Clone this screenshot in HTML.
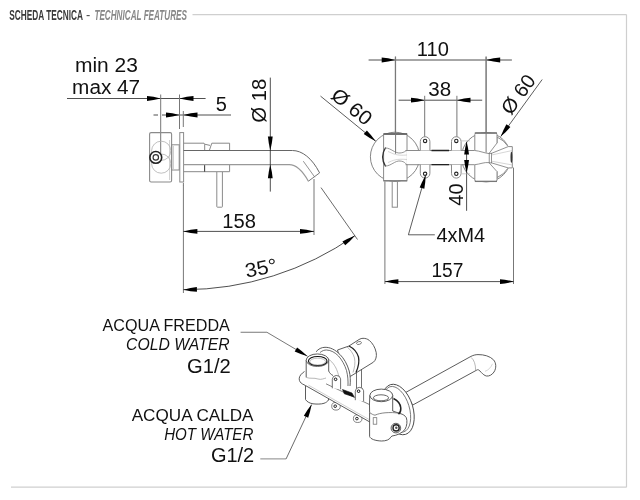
<!DOCTYPE html>
<html><head><meta charset="utf-8"><style>
html,body{margin:0;padding:0;background:#fff;}
body{width:640px;height:500px;overflow:hidden;position:relative;font-family:"Liberation Sans",sans-serif;}
svg{position:absolute;left:0;top:0;filter:grayscale(1);}
.t{font-family:"Liberation Sans",sans-serif;fill:#111;}
</style></head><body>
<svg width="640" height="500" viewBox="0 0 640 500">
<line x1="192.5" y1="14.6" x2="626.5" y2="14.6" stroke="#cfcfcf" stroke-width="1.2" />
<line x1="626.5" y1="14.6" x2="626.5" y2="487.2" stroke="#cfcfcf" stroke-width="1.2" />
<line x1="11" y1="487.2" x2="626.5" y2="487.2" stroke="#cfcfcf" stroke-width="1.2" />
<line x1="67" y1="98.5" x2="205.6" y2="98.5" stroke="#222" stroke-width="0.8" />
<path d="M160.70,98.50 Q153.16,96.63 147.00,96.10 L147.00,100.90 Q153.16,100.37 160.70,98.50 Z" fill="#000"/>
<path d="M179.50,98.50 Q187.20,100.37 193.50,100.90 L193.50,96.10 Q187.20,96.63 179.50,98.50 Z" fill="#000"/>
<line x1="153.5" y1="115" x2="158" y2="115" stroke="#222" stroke-width="0.8" />
<line x1="162" y1="115" x2="231" y2="115" stroke="#222" stroke-width="0.8" />
<path d="M179.50,115.00 Q172.07,113.13 166.00,112.60 L166.00,117.40 Q172.07,116.87 179.50,115.00 Z" fill="#000"/>
<path d="M183.30,115.00 Q191.11,116.87 197.50,117.40 L197.50,112.60 Q191.11,113.13 183.30,115.00 Z" fill="#000"/>
<line x1="160.7" y1="94.5" x2="160.7" y2="153.8" stroke="#777" stroke-width="1" />
<line x1="179.5" y1="94.5" x2="179.5" y2="129" stroke="#777" stroke-width="1" />
<line x1="183.3" y1="111" x2="183.3" y2="127" stroke="#777" stroke-width="1" />
<rect x="149.6" y="132.6" width="22" height="49.4" rx="1.5" fill="none" stroke="#8a8a8a" stroke-width="1.1"/>
<line x1="169.6" y1="140" x2="169.6" y2="180" stroke="#bbb" stroke-width="0.7" />
<circle cx="161.2" cy="150.8" r="9.6" fill="none" stroke="#b0b0b0" stroke-width="0.8"/>
<circle cx="161.2" cy="163.6" r="9.6" fill="none" stroke="#b0b0b0" stroke-width="0.8"/>
<circle cx="155.8" cy="157.4" r="5.9" fill="#fff" stroke="#222" stroke-width="1.6"/>
<circle cx="155.8" cy="157.4" r="2.7" fill="none" stroke="#333" stroke-width="1.2"/>
<rect x="171.6" y="144.8" width="7.6" height="25.2" fill="none" stroke="#8a8a8a" stroke-width="1"/>
<line x1="173.2" y1="146" x2="173.2" y2="169" stroke="#aaa" stroke-width="0.8" />
<rect x="179.8" y="132.6" width="3.8" height="49.4" fill="none" stroke="#8a8a8a" stroke-width="1"/>
<line x1="183.4" y1="183" x2="183.4" y2="186" stroke="#777" stroke-width="1" />
<line x1="183.4" y1="185.6" x2="183.4" y2="293" stroke="#777" stroke-width="1" />
<path d="M183.6,143.2 H204 L204.7,144.2 V150.3 M204.7,144.2 L210,145.4 M211.8,143.2 L209.4,150.3 M211.8,143.2 H229.6 V150.3" fill="none" stroke="#888" stroke-width="1"/>
<path d="M183.6,171.7 H229.6 V164.7" fill="none" stroke="#888" stroke-width="1"/>
<line x1="204.6" y1="164.7" x2="204.6" y2="171.7" stroke="#444" stroke-width="1.1" />
<path d="M183.6,150.5 H292.4 C302,150.5 312,158 319.6,172.9" fill="none" stroke="#666" stroke-width="1"/>
<path d="M183.6,164.7 H289.2 C296,164.7 302,170 308.4,181.2" fill="none" stroke="#999" stroke-width="1.2"/>
<line x1="319.6" y1="172.9" x2="308.4" y2="181.2" stroke="#777" stroke-width="1" />
<line x1="303.3" y1="161.2" x2="314.8" y2="177.2" stroke="#777" stroke-width="0.8" />
<path d="M216.8,172 V206.6 Q216.8,207.2 217.4,207.2 H221.8 Q222.4,207.2 222.4,206.6 V172" fill="none" stroke="#8a8a8a" stroke-width="1"/>
<line x1="270.3" y1="77.6" x2="270.3" y2="191.6" stroke="#222" stroke-width="0.8" />
<path d="M270.30,150.50 Q272.17,142.85 272.70,136.60 L267.90,136.60 Q268.43,142.85 270.30,150.50 Z" fill="#000"/>
<path d="M270.30,164.70 Q268.43,172.18 267.90,178.30 L272.70,178.30 Q272.17,172.18 270.30,164.70 Z" fill="#000"/>
<line x1="314" y1="179" x2="314" y2="235" stroke="#777" stroke-width="1" />
<line x1="183.4" y1="231.4" x2="314" y2="231.4" stroke="#222" stroke-width="0.8" />
<path d="M183.40,231.40 Q191.10,233.27 197.40,233.80 L197.40,229.00 Q191.10,229.53 183.40,231.40 Z" fill="#000"/>
<path d="M314.00,231.40 Q306.30,229.53 300.00,229.00 L300.00,233.80 Q306.30,233.27 314.00,231.40 Z" fill="#000"/>
<line x1="321" y1="187.6" x2="357.5" y2="239.5" stroke="#444" stroke-width="0.8" />
<path d="M183.4,289.70 A299.0,299.0 0 0 0 354.90,235.63" fill="none" stroke="#222" stroke-width="0.8"/>
<path d="M183.40,289.70 Q190.87,291.41 196.95,291.80 L196.85,287.00 Q190.78,287.66 183.40,289.70 Z" fill="#000"/>
<path d="M354.90,235.63 Q347.74,238.35 342.46,241.40 L345.22,245.34 Q349.89,241.42 354.90,235.63 Z" fill="#000"/>
<line x1="368.6" y1="60" x2="511.9" y2="60" stroke="#222" stroke-width="0.8" />
<path d="M395.30,60.00 Q387.82,58.13 381.70,57.60 L381.70,62.40 Q387.82,61.87 395.30,60.00 Z" fill="#000"/>
<path d="M486.10,60.00 Q493.86,61.87 500.20,62.40 L500.20,57.60 Q493.86,58.13 486.10,60.00 Z" fill="#000"/>
<line x1="395.3" y1="56.6" x2="395.3" y2="153.8" stroke="#777" stroke-width="1" />
<line x1="486.1" y1="56.6" x2="486.1" y2="152.6" stroke="#777" stroke-width="1" />
<line x1="398.6" y1="100.2" x2="482.2" y2="100.2" stroke="#222" stroke-width="0.8" />
<path d="M424.70,100.20 Q417.17,98.33 411.00,97.80 L411.00,102.60 Q417.17,102.07 424.70,100.20 Z" fill="#000"/>
<path d="M456.90,100.20 Q464.38,102.07 470.50,102.60 L470.50,97.80 Q464.38,98.33 456.90,100.20 Z" fill="#000"/>
<line x1="424.7" y1="95.8" x2="424.7" y2="137" stroke="#777" stroke-width="1" />
<line x1="456.9" y1="95.8" x2="456.9" y2="137" stroke="#777" stroke-width="1" />
<line x1="320.5" y1="96.1" x2="375.8" y2="141.3" stroke="#333" stroke-width="0.8" />
<path d="M375.80,141.30 Q371.25,134.88 366.87,130.39 L363.73,134.01 Q368.80,137.71 375.80,141.30 Z" fill="#000"/>
<line x1="542.2" y1="79.5" x2="500.7" y2="136.6" stroke="#333" stroke-width="0.8" />
<path d="M500.70,136.60 Q506.47,131.62 510.37,126.98 L506.43,124.22 Q503.40,129.48 500.70,136.60 Z" fill="#000"/>
<circle cx="395" cy="156.8" r="24.6" fill="none" stroke="#777" stroke-width="0.9"/>
<circle cx="486.1" cy="157.3" r="24.6" fill="none" stroke="#777" stroke-width="0.9"/>
<rect x="383.6" y="134" width="23.4" height="46.8" fill="#fff" stroke="#8a8a8a" stroke-width="1"/>
<rect x="406.2" y="151" width="68.6" height="13.2" fill="#fff" stroke="none"/>
<path d="M405.5,150.5 H474.8 M405.5,164.7 H474.8" stroke="#8a8a8a" stroke-width="1"/>
<path d="M431.5,150.5 H449 M431.5,164.7 H449" stroke="#222" stroke-width="1.3"/>
<path d="M383.6,134 H407" stroke="#555" stroke-width="1.5"/>
<path d="M383.6,180.8 H407" stroke="#777" stroke-width="1.2"/>
<path d="M385.6,147.5 Q379.6,157 385.6,166.5" fill="none" stroke="#333" stroke-width="1.3"/>
<path d="M385.5,148 C391,148 395,153.5 400,153 S405,150.8 407,150.5 M385.5,166 C391,166 395,160.5 400,161 S405,163.5 407,164.7" fill="none" stroke="#888" stroke-width="0.9"/>
<path d="M388,151.5 C393,153.5 396,156 407,155 M388,162.5 C393,160.5 396,158.5 407,159.5" fill="none" stroke="#c4c4c4" stroke-width="0.7"/>
<line x1="395.6" y1="56.6" x2="395.6" y2="153.8" stroke="#777" stroke-width="1" />
<rect x="392.2" y="180.8" width="5.2" height="26.4" fill="none" stroke="#8a8a8a" stroke-width="1"/>
<path d="M420.3,150.5 V141.5 A4.8,4.8 0 0 1 429.90000000000003,141.5 V150.5" fill="#fff" stroke="#8a8a8a" stroke-width="1"/>
<circle cx="425.1" cy="140.9" r="1.7" fill="none" stroke="#222" stroke-width="1.1"/>
<path d="M420.3,164.7 V173.3 A4.8,4.8 0 0 0 429.90000000000003,173.3 V164.7" fill="#fff" stroke="#8a8a8a" stroke-width="1"/>
<circle cx="425.1" cy="173.8" r="1.7" fill="none" stroke="#222" stroke-width="1.1"/>
<path d="M451.5,150.5 V141.5 A4.8,4.8 0 0 1 461.1,141.5 V150.5" fill="#fff" stroke="#8a8a8a" stroke-width="1"/>
<circle cx="456.3" cy="140.9" r="1.7" fill="none" stroke="#222" stroke-width="1.1"/>
<path d="M451.5,164.7 V173.3 A4.8,4.8 0 0 0 461.1,173.3 V164.7" fill="#fff" stroke="#8a8a8a" stroke-width="1"/>
<circle cx="456.3" cy="173.8" r="1.7" fill="none" stroke="#222" stroke-width="1.1"/>
<path d="M497,137 A24.6,24.6 0 0 1 508.2,146.6 H512.3 V167.9 H508.2 A24.6,24.6 0 0 1 497,177.6 Z" fill="#fff" stroke="#8a8a8a" stroke-width="1"/>
<path d="M497,143 V134.5 Q497,133 495.5,133 H476.3 Q474.8,133 474.8,134.5 V179.9 Q474.8,181.4 476.3,181.4 H495.5 Q497,181.4 497,179.9 V171.6 L508.2,167.9 V146.6 Z" fill="#fff" stroke="none"/>
<path d="M497,143 V134.5 Q497,133 495.5,133 H476.3 Q474.8,133 474.8,134.5 V150.5 M474.8,164.7 V179.9 Q474.8,181.4 476.3,181.4 H495.5 Q497,181.4 497,179.9 V171.6" fill="none" stroke="#8a8a8a" stroke-width="1"/>
<path d="M474.8,133 H497" stroke="#666" stroke-width="1.3"/>
<path d="M474.8,181.4 H497" stroke="#777" stroke-width="1.3"/>
<rect x="489.2" y="153.3" width="2.4" height="9.6" fill="none" stroke="#777" stroke-width="0.8"/>
<path d="M497,143 L489.2,153.3 M508.2,146.6 L491.6,153.3 M497,171.6 L489.2,162.9 M508.2,167.9 L491.6,162.9 M474.8,150.5 C480,151 484,153 489.2,153.6 M474.8,164.7 C480,164.2 484,162 489.2,162.6" fill="none" stroke="#777" stroke-width="0.8"/>
<path d="M491.6,155 L512.3,150.5 M491.6,161.2 L512.3,165" fill="none" stroke="#bbb" stroke-width="0.6"/>
<ellipse cx="511.4" cy="157.3" rx="0.9" ry="5.5" fill="#333"/>
<line x1="486.1" y1="56.6" x2="486.1" y2="152.6" stroke="#777" stroke-width="1" />
<line x1="466.6" y1="141.8" x2="466.6" y2="210.8" stroke="#222" stroke-width="0.8" />
<path d="M466.60,141.80 Q464.73,148.84 464.20,154.60 L469.00,154.60 Q468.47,148.84 466.60,141.80 Z" fill="#000"/>
<path d="M466.60,172.80 Q468.47,165.76 469.00,160.00 L464.20,160.00 Q464.73,165.76 466.60,172.80 Z" fill="#000"/>
<line x1="461.8" y1="140.9" x2="470" y2="140.9" stroke="#aaa" stroke-width="0.6" />
<line x1="461.8" y1="173.8" x2="470" y2="173.8" stroke="#aaa" stroke-width="0.6" />
<path d="M434.8,234.8 H408.4 L425.7,174.5" fill="none" stroke="#333" stroke-width="0.8"/>
<path d="M425.70,175.20 Q421.86,181.84 419.69,187.54 L424.31,188.86 Q425.47,182.86 425.70,175.20 Z" fill="#000"/>
<line x1="384.9" y1="181.5" x2="384.9" y2="284" stroke="#777" stroke-width="1" />
<line x1="513.5" y1="167.6" x2="513.5" y2="284" stroke="#777" stroke-width="1" />
<line x1="384.9" y1="281.6" x2="513.5" y2="281.6" stroke="#222" stroke-width="0.8" />
<path d="M384.90,281.60 Q392.32,283.47 398.40,284.00 L398.40,279.20 Q392.32,279.73 384.90,281.60 Z" fill="#000"/>
<path d="M513.50,281.60 Q506.07,279.73 500.00,279.20 L500.00,284.00 Q506.07,283.47 513.50,281.60 Z" fill="#000"/>
<path d="M405.6,392.5 L470,356.9 C473,355.2 475.5,354.6 478,354.6 C484,354.5 490,356.2 493.5,359.8 C496.2,362.8 496.6,368 494,372 C492,375 489,376.4 486.5,376 C484.5,375.6 483,374.2 481.5,372.6 L479,370.2 C478.3,369.6 477.6,369.6 476.9,370 L412.6,405.1 Z" fill="#fff" stroke="#4a4a4a" stroke-width="0.9"/>
<path d="M471.2,357.5 C474.2,360 475.6,364.5 475.6,370" fill="none" stroke="#999" stroke-width="0.7"/>
<path d="M492.5,363.8 C491,367.5 488,370.5 485,371.3" fill="none" stroke="#bbb" stroke-width="0.6"/>
<ellipse cx="398" cy="409.5" rx="15" ry="26" transform="rotate(-17 398 409.5)" fill="#fff" stroke="#4a4a4a" stroke-width="0.9"/>
<ellipse cx="396.8" cy="409.3" rx="12.6" ry="23.6" transform="rotate(-17 396.8 409.3)" fill="none" stroke="#666" stroke-width="0.8"/>
<path d="M337.5,350 L349,346 L359,339.5 C360.5,338.6 361.8,338.3 363,338.3 C365.5,338.3 367.5,339 369.2,340.3 C372.5,343 375.2,347.5 376.2,352.5 C376.9,356.5 375.8,360.3 373.4,362.2 L351,376 L345,378 Z" fill="#fff" stroke="#4a4a4a" stroke-width="0.9"/>
<path d="M349,346 C353,348 357,352 358.5,357 C359.5,362 358,368 356,372.5" fill="none" stroke="#222" stroke-width="1.3"/>
<path d="M346.5,346.5 C350,349 353,353 354.5,358 C355.5,363 354.5,368 353,372.5" fill="none" stroke="#999" stroke-width="0.7"/>
<ellipse cx="359" cy="343" rx="2.5" ry="1.4" transform="rotate(-15 359 343)" fill="none" stroke="#666" stroke-width="0.8"/>
<path d="M316,351.8 C318.5,348.8 321.5,347.4 325,347.3 C330,347.2 335,349.5 340,354.5 C344,358.5 347.2,364 349.2,371 C350.4,376 350.6,381 350,386 L347.8,388 L320,388 Z" fill="#fff" stroke="none"/>
<path d="M316,351.8 C318.5,348.8 321.5,347.4 325,347.3 C330,347.2 335,349.5 340,354.5 C344,358.5 347.2,364 349.2,371 C350.4,376 350.6,381 350,386" fill="none" stroke="#4a4a4a" stroke-width="0.9"/>
<path d="M320,352.5 C322.5,350.5 324.5,350 326.5,350 C331,350.2 335,352.5 338.5,356 C342,360 344.8,365 346.5,370.5 C347.8,375.5 348.2,380.5 348,386" fill="none" stroke="#4a4a4a" stroke-width="0.8"/>
<path d="M328.5,359 C331,361 333,363 334.5,365.5 C336.5,368.5 338,372.5 339.5,379" fill="none" stroke="#999" stroke-width="0.7"/>
<path d="M356.5,372.5 V391 M361.5,369.5 V389" fill="none" stroke="#4a4a4a" stroke-width="0.8"/>
<ellipse cx="336" cy="406.2" rx="4.3" ry="3.9" fill="#fff" stroke="#666" stroke-width="0.8"/>
<circle cx="335.2" cy="406.2" r="1.3" fill="none" stroke="#222" stroke-width="1"/>
<ellipse cx="357.7" cy="418.6" rx="4.3" ry="3.9" fill="#fff" stroke="#666" stroke-width="0.8"/>
<circle cx="356.9" cy="418.6" r="1.3" fill="none" stroke="#222" stroke-width="1"/>
<path d="M305.5,385.5 V399.5 C307,402 310,403.3 313,403.8 C317,404.3 321,404.2 324,403.3 C326,402.6 327.6,401.5 328.5,400 V397.5" fill="#fff" stroke="#4a4a4a" stroke-width="0.9"/>
<path d="M304.5,371.5 C301.5,373.5 299.2,376 299.2,378.8 C299.2,381 300.5,383 302.5,384 L305.6,385.6 L376,425.5 L378,412 L370,394 Z" fill="#fff" stroke="none"/>
<path d="M304.5,371.5 C301.5,373.5 299.2,376 299.2,378.8 C299.2,381 300.5,383 302.5,384 L305.6,385.6 L376,425.5" fill="none" stroke="#4a4a4a" stroke-width="0.9"/>
<path d="M308.5,385.2 L370,420" fill="none" stroke="#bbb" stroke-width="0.7"/>
<path d="M326,383.8 L370,404.8" fill="none" stroke="#666" stroke-width="0.8"/>
<path d="M332.3,388.3 V379.3 A4.2,4.2 0 0 1 340.6,378.8 V389.3" fill="#fff" stroke="#4a4a4a" stroke-width="0.8"/>
<circle cx="335.6" cy="379.3" r="1.3" fill="none" stroke="#111" stroke-width="1"/>
<path d="M355.3,400.2 V391.2 A4.2,4.2 0 0 1 363.6,390.7 V401.2" fill="#fff" stroke="#4a4a4a" stroke-width="0.8"/>
<circle cx="358.6" cy="391.2" r="1.3" fill="none" stroke="#111" stroke-width="1"/>
<path d="M342.5,389.5 L352,393 L354.2,397 L344.3,393.8 Z" fill="#111" stroke="#111" stroke-width="0.6"/>
<path d="M306.2,360.2 V377 C310,378.8 318,379.3 325,378.5 L328.7,371 V360.2 Z" fill="#fff" stroke="none"/>
<path d="M306.2,360.2 V377.4 M328.7,360.2 V371 C329.5,373 331,374.5 333,375.5" fill="none" stroke="#4a4a4a" stroke-width="0.9"/>
<path d="M306.2,377.4 C310,379 314,377.5 318,379 C321,380 324,378.5 326,378" fill="none" stroke="#999" stroke-width="0.7"/>
<ellipse cx="317.45" cy="360.2" rx="11.25" ry="6.25" fill="#fff" stroke="#4a4a4a" stroke-width="0.9"/>
<ellipse cx="317.7" cy="361" rx="9.3" ry="4.55" fill="none" stroke="#111" stroke-width="1.1"/>
<ellipse cx="317.7" cy="361.6" rx="7.8" ry="3.4" fill="none" stroke="#999" stroke-width="0.6"/>
<path d="M369.8,395.5 C369.4,401 369.4,407 369.6,412.5 V436.5 C370.5,439 375,440.8 381.5,441 C386,441 389.5,439.8 390.7,437.2 L392,436 C397,435.5 402,433 405,429.4 C407,426 407.5,421 406.3,417.7 C405,415.5 403,414.3 400,413.5 L392.7,411 V395.3 Z" fill="#fff" stroke="#4a4a4a" stroke-width="0.9"/>
<path d="M375,415.2 C378,413.8 381,413.2 385,412.8 C390,412.4 395,412.4 400,413.5" fill="none" stroke="#666" stroke-width="0.8"/>
<path d="M369.6,412.5 C371.5,414 373.5,415 375,415.2" fill="none" stroke="#666" stroke-width="0.8"/>
<rect x="373.2" y="417.7" width="3.6" height="6.5" fill="none" stroke="#666" stroke-width="0.7"/>
<ellipse cx="381.3" cy="395.4" rx="11.4" ry="6.3" fill="#fff" stroke="#4a4a4a" stroke-width="0.9"/>
<ellipse cx="381" cy="397.8" rx="7.6" ry="3.0" fill="none" stroke="#666" stroke-width="1"/>
<path d="M393.5,398.5 C397.5,400.5 400.5,404 400.8,408 C401,411 400,413 398.5,414.2" fill="none" stroke="#222" stroke-width="1.5"/>
<circle cx="395.9" cy="428.1" r="4.8" fill="#fff" stroke="#4a4a4a" stroke-width="0.9"/>
<circle cx="396.1" cy="427.9" r="3.1" fill="none" stroke="#222" stroke-width="1.4"/>
<circle cx="396.3" cy="427.8" r="1.2" fill="#555"/>
<path d="M240.6,332.25 H266.9 L307.5,356.25" fill="none" stroke="#555" stroke-width="0.8"/>
<path d="M307.50,356.25 Q302.06,350.92 297.11,347.43 L294.69,351.57 Q300.18,354.16 307.50,356.25 Z" fill="#000"/>
<path d="M260.3,458.9 H286.1" fill="none" stroke="#888" stroke-width="1"/>
<path d="M286.1,458.9 L311.6,404.6" fill="none" stroke="#444" stroke-width="0.8"/>
<path d="M311.60,404.60 Q306.82,410.53 303.82,415.80 L308.18,417.80 Q310.22,412.09 311.60,404.60 Z" fill="#000"/>
<text x="74.98" y="72.20" font-size="20" textLength="62.94" lengthAdjust="spacingAndGlyphs" fill="#111">min 23</text>
<text x="72.10" y="94.40" font-size="20" textLength="68.08" lengthAdjust="spacingAndGlyphs" fill="#111">max 47</text>
<text x="215.70" y="110.50" font-size="20" textLength="11.12" lengthAdjust="spacingAndGlyphs" fill="#111">5</text>
<text x="-0.76" y="0.00" font-size="20" textLength="44.14" lengthAdjust="spacingAndGlyphs" fill="#111" transform="translate(266.3,122) rotate(-90)">Ø 18</text>
<text x="222.24" y="228.00" font-size="20" textLength="33.64" lengthAdjust="spacingAndGlyphs" fill="#111">158</text>
<text x="-0.80" y="0.00" font-size="20" textLength="32.06" lengthAdjust="spacingAndGlyphs" fill="#111" transform="translate(247.3,277.6) rotate(-11)">35°</text>
<text x="416.89" y="55.80" font-size="20" textLength="31.99" lengthAdjust="spacingAndGlyphs" fill="#111">110</text>
<text x="428.23" y="96.25" font-size="20" textLength="22.89" lengthAdjust="spacingAndGlyphs" fill="#111">38</text>
<text x="-0.79" y="0.00" font-size="20" textLength="45.80" lengthAdjust="spacingAndGlyphs" fill="#111" transform="translate(330.3,98) rotate(39)">Ø 60</text>
<text x="-0.75" y="0.00" font-size="20" textLength="43.52" lengthAdjust="spacingAndGlyphs" fill="#111" transform="translate(511.5,115.3) rotate(-54)">Ø 60</text>
<text x="-0.45" y="0.00" font-size="20" textLength="22.25" lengthAdjust="spacingAndGlyphs" fill="#111" transform="translate(462.9,205.2) rotate(-90)">40</text>
<text x="436.55" y="242.30" font-size="20" textLength="48.60" lengthAdjust="spacingAndGlyphs" fill="#111">4xM4</text>
<text x="431.47" y="277.30" font-size="20" textLength="31.91" lengthAdjust="spacingAndGlyphs" fill="#111">157</text>
<text x="102.56" y="331.20" font-size="15.7" textLength="127.29" lengthAdjust="spacingAndGlyphs" fill="#111">ACQUA FREDDA</text>
<text x="126.13" y="350.40" font-size="15.7" textLength="103.54" lengthAdjust="spacingAndGlyphs" fill="#111" font-style="italic">COLD WATER</text>
<text x="186.99" y="372.50" font-size="20" textLength="43.73" lengthAdjust="spacingAndGlyphs" fill="#111">G1/2</text>
<text x="131.66" y="420.70" font-size="15.7" textLength="121.86" lengthAdjust="spacingAndGlyphs" fill="#111">ACQUA CALDA</text>
<text x="164.15" y="439.60" font-size="15.7" textLength="89.20" lengthAdjust="spacingAndGlyphs" fill="#111" font-style="italic">HOT WATER</text>
<text x="210.90" y="461.60" font-size="20" textLength="43.31" lengthAdjust="spacingAndGlyphs" fill="#111">G1/2</text>
<text x="9.35" y="20.20" font-size="15" textLength="73.68" lengthAdjust="spacingAndGlyphs" fill="#3a3a3a" font-weight="bold">SCHEDA TECNICA</text>
<text x="86.12" y="20.20" font-size="14" textLength="4.26" lengthAdjust="spacingAndGlyphs" fill="#555">-</text>
<text x="94.41" y="20.00" font-size="14.8" textLength="92.57" lengthAdjust="spacingAndGlyphs" fill="#888" font-weight="bold" font-style="italic">TECHNICAL FEATURES</text>
</svg>
</body></html>
